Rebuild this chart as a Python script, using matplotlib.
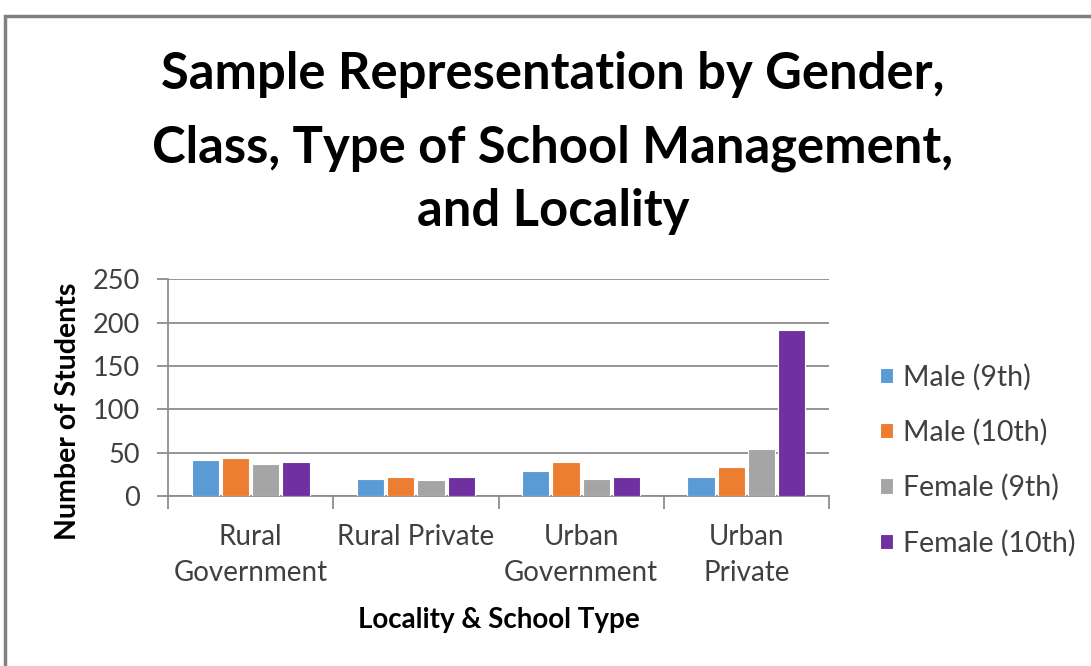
import matplotlib
matplotlib.use("Agg")
import matplotlib.pyplot as plt
import numpy as np
from matplotlib.patches import Rectangle

categories = ["Rural\nGovernment", "Rural Private", "Urban\nGovernment", "Urban\nPrivate"]
series_names = ["Male (9th)", "Male (10th)", "Female (9th)", "Female (10th)"]
male_9th = [42, 20, 29, 22]
male_10th = [44, 22, 39, 34]
female_9th = [37, 19, 20, 54]
female_10th = [39, 22, 22, 192]
yticks = [0, 50, 100, 150, 200, 250]
colors = ["#5B9BD5", "#ED7D31", "#A5A5A5", "#7030A0"]

plt.rcParams["font.family"] = ["Lato", "DejaVu Sans"]

fig = plt.figure(figsize=(10.91, 6.66), dpi=100)
fig.patch.set_facecolor("white")

# outer frame
fig.add_artist(Rectangle((5 / 1091, -0.1), 1.2, (666 - 16) / 666 + 0.1,
                         transform=fig.transFigure, fill=False,
                         edgecolor="#808080", linewidth=2.5))

ax = fig.add_axes([168 / 1091, (666 - 496) / 666, (829 - 168) / 1091, 216.7 / 666])

x = np.arange(len(categories))
slot = 0.183
width = 0.165
data = [male_9th, male_10th, female_9th, female_10th]
for i, (vals, name, c) in enumerate(zip(data, series_names, colors)):
    ax.bar(x + (i - 1.5) * slot, vals, width, color=c, label=name,
           edgecolor="white", linewidth=0.8, zorder=3)

ax.set_xlim(-0.5, len(categories) - 0.5)
ax.set_ylim(0, 250)
ax.set_yticks(yticks)
ax.yaxis.grid(True, color="#8c8c8c", linewidth=1.3, zorder=0)
ax.set_axisbelow(True)

for s in ["top", "right"]:
    ax.spines[s].set_visible(False)
for s in ["left", "bottom"]:
    ax.spines[s].set_color("#8c8c8c")
    ax.spines[s].set_linewidth(1.3)

ax.set_xticks(np.arange(len(categories) + 1) - 0.5)
ax.set_xticklabels([])
ax.set_xticks(x, minor=True)
ax.set_xticklabels(categories, minor=True, fontsize=20, color="#404040",
                   linespacing=1.5)
ax.tick_params(axis="x", which="major", length=9, color="#8c8c8c", width=1.3)
ax.tick_params(axis="x", which="minor", length=0, pad=20)
ax.tick_params(axis="y", length=8, color="#8c8c8c", width=1.3,
               labelsize=19.5, labelcolor="#404040", pad=12)

title_lines = ["Sample Representation by Gender,",
               "Class, Type of School Management,",
               "and Locality"]
for line, yc in zip(title_lines, [75, 148, 212]):
    fig.text(553 / 1091, 1 - yc / 666, line, ha="center", va="center",
             fontsize=36.5, fontweight="bold", color="black")

fig.text(68 / 1091, 1 - 411 / 666, "Number of Students", rotation=90,
         ha="center", va="center", fontsize=20.5, fontweight="bold", color="black")
fig.text(499 / 1091, 1 - 620 / 666, "Locality & School Type",
         ha="center", va="center", fontsize=20, fontweight="bold", color="black")

leg = ax.legend(loc="center left", bbox_to_anchor=(880 / 1091, 1 - 460 / 666),
                bbox_transform=fig.transFigure, frameon=False, fontsize=20.5,
                handlelength=0.46, handleheight=0.46, handletextpad=0.35,
                labelspacing=1.0, borderpad=0, borderaxespad=0,
                labelcolor="#404040")

fig.savefig("out.png", dpi=100, facecolor="white")
